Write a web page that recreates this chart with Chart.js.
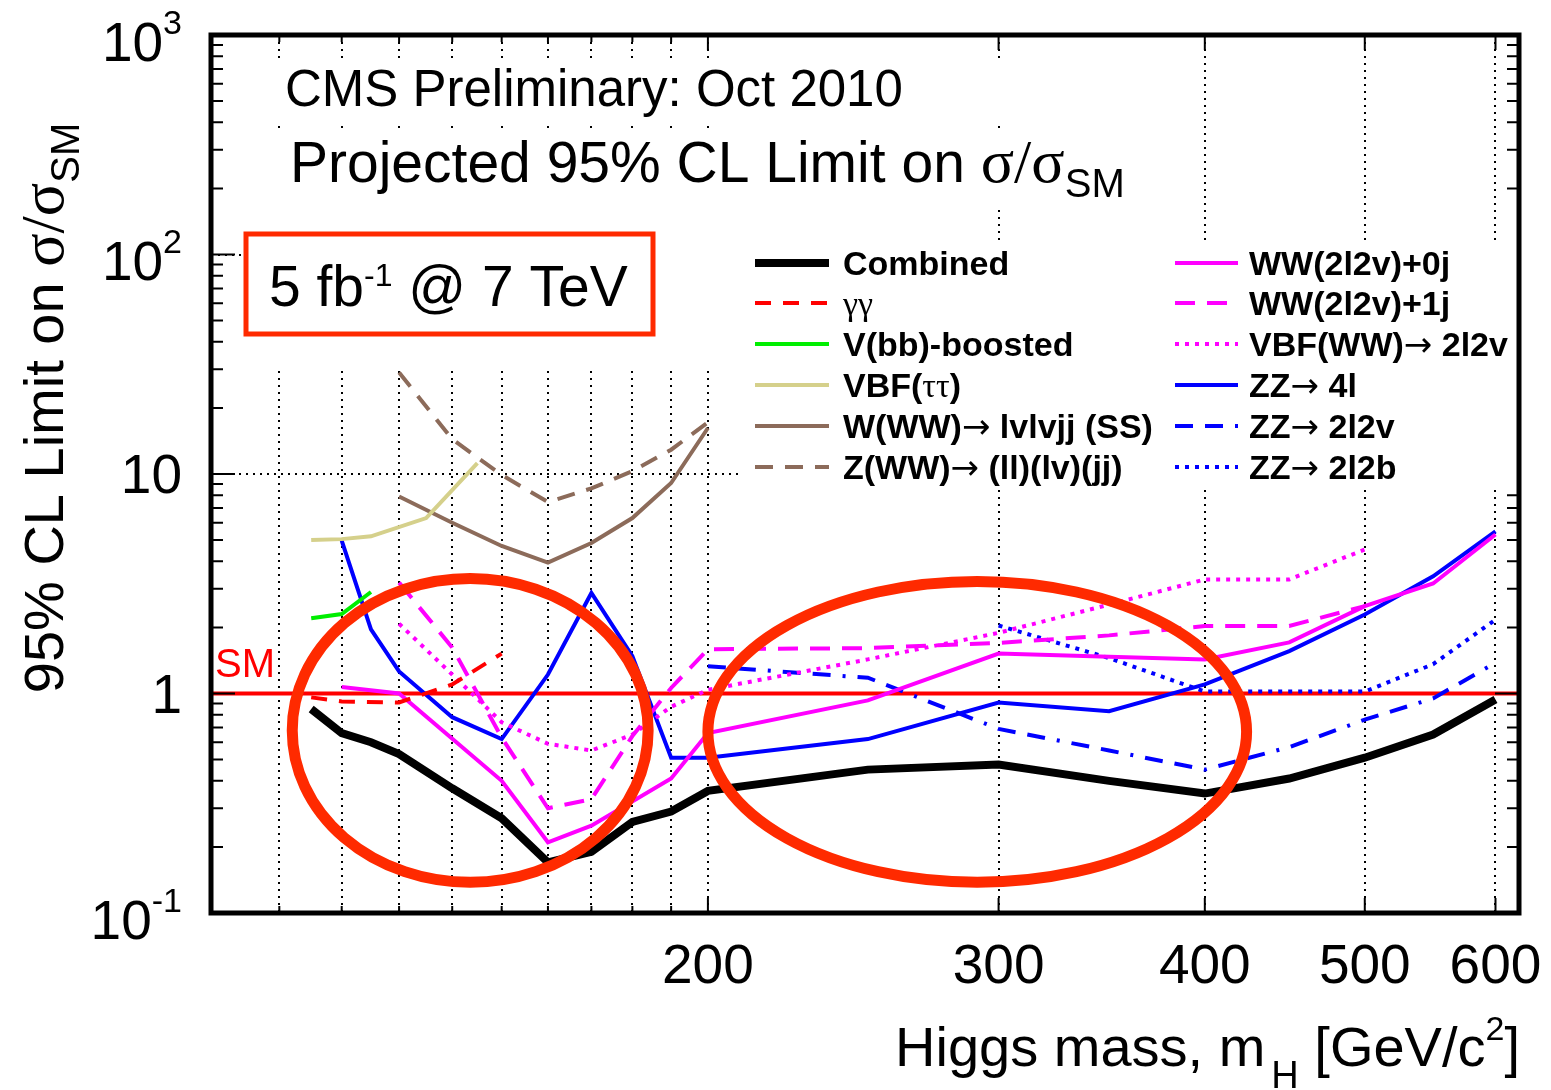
<!DOCTYPE html>
<html>
<head>
<meta charset="utf-8">
<title>Projected 95% CL Limit on σ/σSM</title>
<script src="https://cdn.jsdelivr.net/npm/chart.js@4/dist/chart.umd.min.js"></script>
<style>
  html, body { margin: 0; padding: 0; background: #ffffff; }
  #wrap { width: 1551px; height: 1090px; }
</style>
</head>
<body>
<div id="wrap"><canvas id="chart" width="1551" height="1090"></canvas></div>
<script>
// Higgs mass points (GeV/c^2) and projected 95% CL limits on sigma/sigma_SM, per channel
const massCombined   = [115, 120, 125, 130, 140, 150, 160, 170, 180, 190, 200, 250, 300, 350, 400, 450, 500, 550, 600];
const limitCombined  = [0.85, 0.66, 0.60, 0.53, 0.37, 0.27, 0.17, 0.19, 0.26, 0.29, 0.36, 0.45, 0.475, 0.40, 0.35, 0.41, 0.51, 0.65, 0.94];

const massGamGam     = [115, 120, 130, 140, 150];
const limitGamGam    = [0.96, 0.92, 0.91, 1.10, 1.52];

const massVbb        = [115, 120, 125];
const limitVbb       = [2.2, 2.3, 2.9];

const massVbfTauTau  = [115, 120, 125, 135, 145];
const limitVbfTauTau = [5.0, 5.05, 5.2, 6.3, 11.2];

const massWWWss      = [130, 140, 150, 160, 170, 180, 190, 200];
const limitWWWss     = [7.9, 6.0, 4.7, 3.95, 4.85, 6.3, 9.1, 16.2];

const massZWW        = [130, 140, 150, 160, 170, 180, 190, 200];
const limitZWW       = [29, 14.4, 9.9, 7.45, 8.6, 10.3, 12.9, 17.2];

const massWW0j       = [120, 130, 150, 160, 170, 190, 200, 250, 300, 350, 400, 450, 500, 550, 600];
const limitWW0j      = [1.07, 1.0, 0.40, 0.21, 0.25, 0.41, 0.66, 0.93, 1.52, 1.47, 1.43, 1.71, 2.5, 3.17, 5.3];

const massWW1j       = [130, 140, 150, 160, 170, 180, 190, 200, 250, 300, 350, 400, 450, 500];
const limitWW1j      = [3.2, 1.62, 0.63, 0.30, 0.33, 0.64, 1.06, 1.59, 1.61, 1.70, 1.84, 2.03, 2.03, 2.5];

const massVbfWW      = [130, 140, 150, 160, 170, 180, 190, 200, 250, 300, 350, 400, 450, 500];
const limitVbfWW     = [2.08, 1.22, 0.74, 0.59, 0.55, 0.65, 0.87, 1.04, 1.43, 1.89, 2.54, 3.31, 3.31, 4.53];

const massZZ4l       = [120, 125, 130, 140, 150, 160, 170, 180, 190, 200, 250, 300, 350, 400, 450, 500, 550, 600];
const limitZZ4l      = [4.97, 1.96, 1.26, 0.78, 0.62, 1.22, 2.87, 1.48, 0.51, 0.51, 0.62, 0.91, 0.83, 1.10, 1.56, 2.29, 3.42, 5.48];

const massZZ2l2v     = [200, 250, 300, 350, 400, 450, 500, 550, 600];
const limitZZ2l2v    = [1.33, 1.18, 0.69, 0.55, 0.45, 0.57, 0.76, 0.95, 1.38];

const massZZ2l2b     = [300, 350, 400, 450, 500, 550, 600];
const limitZZ2l2b    = [2.04, 1.45, 1.02, 1.02, 1.02, 1.36, 2.17];

// Standard Model reference level
const smMass  = [100, 620];
const smLimit = [1, 1];

// Series names (legend order: left column then right column)
const seriesNames = [
  'Combined', 'γγ', 'V(bb)-boosted', 'VBF(ττ)', 'W(WW)→ lvlvjj (SS)', 'Z(WW)→ (ll)(lv)(jj)',
  'WW(2l2v)+0j', 'WW(2l2v)+1j', 'VBF(WW)→ 2l2v', 'ZZ→ 4l', 'ZZ→ 2l2v', 'ZZ→ 2l2b'
];

// Axis ticks
const xGridMasses = [110, 120, 130, 140, 150, 160, 170, 180, 190, 200, 300, 400, 500, 600];
const xTickValues = [200, 300, 400, 500, 600];
const xTickLabels = ['200', '300', '400', '500', '600'];
const yTickValues = [0.1, 1, 10, 100, 1000];
const yTickBase   = ['10', '1', '10', '10', '10'];
const yTickExp    = ['-1', '', '', '2', '3'];

// Highlighted mass / limit regions (drawn as ellipses)
const highlightMass  = [[112, 184], [200, 424]];
const highlightLimit = [[0.138, 3.34], [0.138, 3.24]];

const SANS  = '"Liberation Sans", Arial, Helvetica, sans-serif';
const SERIF = '"Liberation Serif", "Times New Roman", serif';
const ARROWS = '"DejaVu Sans", sans-serif';
const GREEK_CHARS = /[\u0370-\u03FF]/;
const ARROW_CHARS = /[\u2190-\u21FF]/;
const HILITE = '#ff2a00';

// legend panel
const LEGEND_BOX = { x: 740, y: 242, w: 779, h: 246 };

const pts = (xs, ys) => xs.map((m, i) => ({ x: m, y: ys[i] }));

function series(i, xs, ys, color, width, dash) {
  return {
    label: seriesNames[i], data: pts(xs, ys),
    borderColor: color, backgroundColor: color, borderWidth: width,
    borderDash: dash || [], pointRadius: 0, fill: false, tension: 0,
    borderCapStyle: 'butt', borderJoinStyle: 'miter'
  };
}

const datasets = [
  series(0,  massCombined,  limitCombined,  '#000000', 8),
  series(1,  massGamGam,    limitGamGam,    '#ff0000', 4, [16, 12]),
  series(2,  massVbb,       limitVbb,       '#00ee00', 4),
  series(3,  massVbfTauTau, limitVbfTauTau, '#d5d08b', 4),
  series(4,  massWWWss,     limitWWWss,     '#8c6b5a', 4),
  series(5,  massZWW,       limitZWW,       '#8c6b5a', 4, [18, 12]),
  series(6,  massWW0j,      limitWW0j,      '#ff00ff', 4),
  series(7,  massWW1j,      limitWW1j,      '#ff00ff', 4, [20, 12]),
  series(8,  massVbfWW,     limitVbfWW,     '#ff00ff', 4, [4, 6]),
  series(9,  massZZ4l,      limitZZ4l,      '#0000ff', 4),
  series(10, massZZ2l2v,    limitZZ2l2v,    '#0000ff', 4, [18, 12, 18, 12, 3, 12]),
  series(11, massZZ2l2b,    limitZZ2l2b,    '#0000ff', 4, [4, 6]),
  { label: 'SM', data: pts(smMass, smLimit), borderColor: '#ff0000', borderWidth: 4,
    pointRadius: 0, fill: false, tension: 0 }
];

// ---- rich text helpers (sub/superscripts, Greek letters in a serif face) ----
function textRuns(text, size, weight) {
  const out = [];
  let cur = null;
  for (const ch of text) {
    let font;
    if (GREEK_CHARS.test(ch)) font = `${size}px ${SERIF}`;
    else if (ARROW_CHARS.test(ch)) font = `${size}px ${ARROWS}`;
    else font = `${weight || ''} ${size}px ${SANS}`.trim();
    if (cur && cur.font === font) cur.t += ch;
    else { cur = { t: ch, font, dy: 0 }; out.push(cur); }
  }
  return out;
}
function richWidth(ctx, segs) {
  let w = 0;
  for (const s of segs) { ctx.font = s.font; w += ctx.measureText(s.t).width + (s.dx || 0); }
  return w;
}
function drawRich(ctx, segs, x, y, align) {
  const w = richWidth(ctx, segs);
  let cx = align === 'right' ? x - w : align === 'center' ? x - w / 2 : x;
  ctx.textAlign = 'left';
  ctx.textBaseline = 'alphabetic';
  for (const s of segs) {
    ctx.font = s.font;
    cx += (s.dx || 0);
    ctx.fillText(s.t, cx, y + (s.dy || 0));
    cx += ctx.measureText(s.t).width;
  }
  return w;
}

const F = (px, fam, w) => `${w || ''} ${px}px ${fam || SANS}`.trim();

const decorations = {
  id: 'decorations',
  beforeDatasetsDraw(chart) {
    const { ctx } = chart;
    ctx.save();
    // white panels behind the captions and the legend
    ctx.fillStyle = '#ffffff';
    ctx.fillRect(250, 60, 880, 62);
    ctx.fillRect(250, 130, 880, 76);
    ctx.fillRect(244, 206, 496, 161);
    ctx.fillRect(LEGEND_BOX.x, LEGEND_BOX.y, LEGEND_BOX.w, LEGEND_BOX.h);

    ctx.fillStyle = '#000000';
    drawRich(ctx, [{ t: 'CMS Preliminary: Oct 2010', font: F(51) }], 285, 106, 'left');
    drawRich(ctx, [
      { t: 'Projected 95% CL Limit on ', font: F(57) },
      { t: 'σ/σ', font: F(62, SERIF) },
      { t: 'SM', font: F(40), dy: 15 }
    ], 290, 182, 'left');

    // luminosity box
    ctx.strokeStyle = HILITE;
    ctx.lineWidth = 5;
    ctx.strokeRect(246, 234, 407, 100);
    ctx.fillStyle = '#000000';
    drawRich(ctx, [
      { t: '5 fb', font: F(57) },
      { t: '-1', font: F(32), dy: -20 },
      { t: ' @ 7 TeV', font: F(57) }
    ], 269, 306, 'left');

    // legend
    const cols = [{ s0: 755, s1: 829, tx: 843 }, { s0: 1175, s1: 1238, tx: 1249 }];
    const rows = [263, 303, 344, 385, 426, 467];
    chart.data.datasets.slice(0, 12).forEach((ds, i) => {
      const c = cols[i < 6 ? 0 : 1];
      const y = rows[i % 6];
      ctx.save();
      ctx.strokeStyle = ds.borderColor;
      ctx.lineWidth = ds.borderWidth;
      ctx.lineCap = 'butt';
      ctx.setLineDash(ds.borderDash || []);
      ctx.beginPath();
      ctx.moveTo(c.s0, y);
      ctx.lineTo(c.s1, y);
      ctx.stroke();
      ctx.restore();
      ctx.fillStyle = '#000000';
      drawRich(ctx, textRuns(ds.label, 34, 'bold'), c.tx, y + 12, 'left');
    });
    ctx.restore();
  },
  afterDatasetsDraw(chart) {
    const { ctx, chartArea: a } = chart;
    const xs = chart.scales.x, ys = chart.scales.y;
    ctx.save();

    // highlighted regions
    ctx.strokeStyle = HILITE;
    ctx.lineWidth = 11;
    highlightMass.forEach((mr, i) => {
      const x0 = xs.getPixelForValue(mr[0]), x1 = xs.getPixelForValue(mr[1]);
      const y0 = ys.getPixelForValue(highlightLimit[i][1]), y1 = ys.getPixelForValue(highlightLimit[i][0]);
      ctx.beginPath();
      ctx.ellipse((x0 + x1) / 2, (y0 + y1) / 2, (x1 - x0) / 2, (y1 - y0) / 2, 0, 0, Math.PI * 2);
      ctx.stroke();
    });

    // SM label
    ctx.fillStyle = '#ff0000';
    drawRich(ctx, [{ t: 'SM', font: F(40) }], a.left + 4, ys.getPixelForValue(1) - 17, 'left');

    // tick marks (right-hand ticks are hidden behind the legend panel)
    ctx.strokeStyle = '#000000';
    ctx.lineWidth = 2;
    ctx.beginPath();
    for (let d = -1; d < 3; d++) {
      for (let k = 1; k < 10; k++) {
        const y = ys.getPixelForValue(k * Math.pow(10, d));
        const len = k === 1 ? 24 : 12;
        ctx.moveTo(a.left, y); ctx.lineTo(a.left + len, y);
        if (y < LEGEND_BOX.y || y > LEGEND_BOX.y + LEGEND_BOX.h) {
          ctx.moveTo(a.right, y); ctx.lineTo(a.right - len, y);
        }
      }
    }
    for (const m of xGridMasses) {
      const x = xs.getPixelForValue(m);
      const len = m >= 200 ? 15 : 7;
      ctx.moveTo(x, a.bottom); ctx.lineTo(x, a.bottom - len);
      ctx.moveTo(x, a.top); ctx.lineTo(x, a.top + len);
    }
    ctx.stroke();

    // frame
    ctx.lineWidth = 5;
    ctx.strokeRect(a.left, a.top, a.right - a.left, a.bottom - a.top);

    // tick labels
    ctx.fillStyle = '#000000';
    xTickValues.forEach((v, i) => {
      drawRich(ctx, [{ t: xTickLabels[i], font: F(55) }], xs.getPixelForValue(v), a.bottom + 70, 'center');
    });
    yTickValues.forEach((v, i) => {
      const y = ys.getPixelForValue(v);
      const segs = [{ t: yTickBase[i], font: F(55) }];
      if (yTickExp[i]) segs.push({ t: yTickExp[i], font: F(34), dy: -27 });
      drawRich(ctx, segs, a.left - 29, y + 19 + (yTickExp[i] ? 6.5 : 0), 'right');
    });

    // axis titles
    drawRich(ctx, [
      { t: 'Higgs mass, m', font: F(56) },
      { t: 'H', font: F(38), dy: 22, dx: 6 },
      { t: ' [GeV/c', font: F(56) },
      { t: '2', font: F(34), dy: -26 },
      { t: ']', font: F(56) }
    ], a.right + 1, 1066, 'right');

    ctx.save();
    ctx.translate(63, 408);
    ctx.rotate(-Math.PI / 2);
    drawRich(ctx, [
      { t: '95% CL Limit on ', font: F(56) },
      { t: 'σ/σ', font: F(62, SERIF) },
      { t: 'SM', font: F(40), dy: 16 }
    ], 0, 0, 'center');
    ctx.restore();

    ctx.restore();
  }
};

new Chart(document.getElementById('chart'), {
  type: 'line',
  data: { datasets },
  options: {
    responsive: false,
    animation: false,
    events: [],
    layout: { padding: { left: 211, right: 32, top: 35, bottom: 177 } },
    plugins: { legend: { display: false }, tooltip: { enabled: false } },
    scales: {
      x: {
        type: 'logarithmic', min: 100, max: 620,
        afterBuildTicks: (s) => { s.ticks = xGridMasses.map(v => ({ value: v })); },
        ticks: { display: false },
        grid: { color: '#000000', lineWidth: 2, drawTicks: false },
        border: { display: false, dash: [2, 5] }
      },
      y: {
        type: 'logarithmic', min: 0.1, max: 1000,
        afterBuildTicks: (s) => { s.ticks = yTickValues.map(v => ({ value: v })); },
        ticks: { display: false },
        grid: { color: '#000000', lineWidth: 2, drawTicks: false },
        border: { display: false, dash: [2, 5] }
      }
    }
  },
  plugins: [decorations]
});
</script>
</body>
</html>
